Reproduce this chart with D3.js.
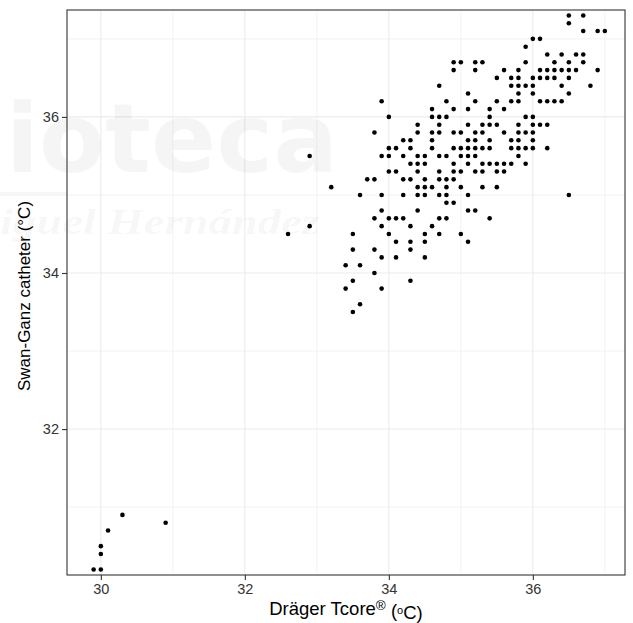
<!DOCTYPE html>
<html>
<head>
<meta charset="utf-8">
<script src="https://cdn.jsdelivr.net/npm/d3@7"></script>
<style>
  body { margin: 0; background: #fff; }
  svg { display: block; font-family: "Liberation Sans", Arial, Helvetica, sans-serif; }
</style>
</head>
<body>
<div id="chart"></div>
<script>
// Swan-Ganz reading (y) for each row of points, and the Dräger Tcore readings (x) on that row
const swanLevels = [
  37.3, 37.2, 37.1, 37.0, 36.9, 36.8, 36.7, 36.6, 36.5, 36.4, 36.3, 36.2, 36.1, 36.0,
  35.9, 35.8, 35.7, 35.6, 35.5, 35.4, 35.3, 35.2, 35.1, 35.0, 34.9, 34.8, 34.7, 34.6,
  34.5, 34.4, 34.3, 34.2, 34.1, 34.0, 33.9, 33.8, 33.6, 33.5,
  30.9, 30.8, 30.7, 30.5, 30.4, 30.2
];
const tcoreAtLevel = [
  [36.5, 36.7],
  [36.5],
  [36.7, 36.9, 37.0],
  [36.0, 36.1],
  [35.9],
  [36.2, 36.4, 36.6, 36.7],
  [34.9, 35.0, 35.2, 35.3, 35.9, 36.3, 36.5, 36.7],
  [34.9, 35.2, 35.6, 35.8, 36.1, 36.2, 36.3, 36.4, 36.5, 36.6, 36.9],
  [35.5, 35.7, 35.8, 36.0, 36.1, 36.2, 36.3, 36.5],
  [34.7, 35.7, 35.8, 35.9, 36.0, 36.4, 36.8],
  [35.1, 35.8, 36.0, 36.5],
  [33.9, 34.8, 35.2, 35.5, 35.7, 35.8, 36.1, 36.2, 36.3, 36.4],
  [34.6, 34.9, 35.1, 35.4, 35.6],
  [34.0, 34.6, 34.7, 34.8, 35.4, 35.9, 36.0],
  [34.4, 34.7, 35.1, 35.3, 35.4, 35.5, 35.8, 36.0, 36.1, 36.2],
  [33.8, 34.4, 34.6, 34.7, 34.9, 35.0, 35.2, 35.3, 35.6, 35.8, 35.9, 36.0],
  [34.2, 34.3, 34.6, 35.1, 35.2, 35.4, 35.7, 35.8, 36.0],
  [34.0, 34.1, 34.3, 34.6, 34.9, 35.0, 35.1, 35.2, 35.3, 35.4, 35.7, 35.8, 35.9, 36.0, 36.2],
  [32.9, 33.9, 34.0, 34.2, 34.4, 34.5, 34.7, 34.8, 35.0, 35.1, 35.2, 35.8],
  [34.3, 34.4, 34.5, 34.9, 35.1, 35.3, 35.4, 35.5, 35.6, 35.7, 35.9],
  [34.0, 34.1, 34.4, 34.7, 34.9, 35.0, 35.2, 35.3, 35.5, 35.6],
  [33.7, 33.8, 34.2, 34.3, 34.5, 34.7, 34.8, 34.9],
  [33.2, 34.4, 34.5, 34.6, 34.8, 35.0, 35.3, 35.5],
  [33.6, 33.9, 34.2, 34.4, 34.5, 34.7, 34.8, 35.1, 36.5],
  [34.8, 34.9],
  [33.9, 34.4, 35.1, 35.2],
  [33.8, 34.0, 34.1, 34.2, 34.7, 34.8, 35.4],
  [32.9, 33.9, 34.3, 34.6],
  [32.6, 33.5, 34.0, 34.5, 34.7, 35.0],
  [34.1, 34.3, 34.5, 35.1],
  [33.5, 33.8, 34.3],
  [33.9, 34.1, 34.5],
  [33.4, 33.6],
  [33.8],
  [33.5, 34.3],
  [33.4, 33.9],
  [33.6],
  [33.5],
  [30.3],
  [30.9],
  [30.1],
  [30.0],
  [30.0],
  [29.9, 30.0]
];

const xMajor = [30, 32, 34, 36];
const xMinor = [31, 33, 35, 37];
const yMajor = [32, 34, 36];
const yMinor = [31, 33, 35, 37];

const points = [];
swanLevels.forEach((sg, i) => {
  tcoreAtLevel[i].forEach(tc => points.push({ tcore: tc, swan: sg }));
});

const W = 633, H = 623;
const panel = { left: 67, right: 625, top: 10, bottom: 575 };

const svg = d3.select('#chart').append('svg')
  .attr('width', W)
  .attr('height', H);

svg.append('rect').attr('width', W).attr('height', H).attr('fill', '#fff');

const x = d3.scaleLinear().domain([29.53, 37.28]).range([panel.left, panel.right]);
const y = d3.scaleLinear().domain([30.13, 37.37]).range([panel.bottom, panel.top]);

// grid (minor first, then major)
const grid = svg.append('g');
grid.selectAll('.vminor').data(xMinor).enter().append('line')
  .attr('x1', d => x(d)).attr('x2', d => x(d))
  .attr('y1', panel.top).attr('y2', panel.bottom)
  .attr('stroke', '#ebebeb').attr('stroke-width', 0.6);
grid.selectAll('.hminor').data(yMinor).enter().append('line')
  .attr('y1', d => y(d)).attr('y2', d => y(d))
  .attr('x1', panel.left).attr('x2', panel.right)
  .attr('stroke', '#ebebeb').attr('stroke-width', 0.6);
grid.selectAll('.vmajor').data(xMajor).enter().append('line')
  .attr('x1', d => x(d)).attr('x2', d => x(d))
  .attr('y1', panel.top).attr('y2', panel.bottom)
  .attr('stroke', '#ebebeb').attr('stroke-width', 1.1);
grid.selectAll('.hmajor').data(yMajor).enter().append('line')
  .attr('y1', d => y(d)).attr('y2', d => y(d))
  .attr('x1', panel.left).attr('x2', panel.right)
  .attr('stroke', '#ebebeb').attr('stroke-width', 1.1);

// faint library watermark over the left half of the picture
const wm = svg.append('g').attr('fill', '#000');
wm.append('text')
  .attr('x', 6).attr('y', 172)
  .attr('fill-opacity', 0.04)
  .attr('textLength', 332).attr('lengthAdjust', 'spacingAndGlyphs')
  .style('font-family', '"DejaVu Sans", sans-serif')
  .style('font-weight', 'bold')
  .style('font-size', '96px')
  .text('ioteca');
wm.append('rect')
  .attr('x', 0).attr('y', 192).attr('width', 67).attr('height', 4)
  .attr('fill-opacity', 0.035);
wm.append('text')
  .attr('x', 0).attr('y', 234)
  .attr('fill-opacity', 0.045)
  .attr('textLength', 320).attr('lengthAdjust', 'spacingAndGlyphs')
  .style('font-family', '"Liberation Serif", serif')
  .style('font-style', 'italic')
  .style('font-weight', 'bold')
  .style('font-size', '36px')
  .text('iguel Hernández');

// points
svg.append('g').selectAll('circle')
  .data(points)
  .enter().append('circle')
  .attr('cx', d => x(d.tcore))
  .attr('cy', d => y(d.swan))
  .attr('r', 2.3)
  .attr('fill', '#000');

// panel border
svg.append('rect')
  .attr('x', panel.left).attr('y', panel.top)
  .attr('width', panel.right - panel.left).attr('height', panel.bottom - panel.top)
  .attr('fill', 'none').attr('stroke', '#333333').attr('stroke-width', 1.1);

// axes
const xAxis = svg.append('g')
  .attr('transform', `translate(0,${panel.bottom})`)
  .call(d3.axisBottom(x).tickValues(xMajor).tickSize(5).tickPadding(4).tickSizeOuter(0));
const yAxis = svg.append('g')
  .attr('transform', `translate(${panel.left},0)`)
  .call(d3.axisLeft(y).tickValues(yMajor).tickSize(5).tickPadding(3).tickSizeOuter(0));

[xAxis, yAxis].forEach(ax => {
  ax.select('.domain').remove();
  ax.selectAll('.tick line').attr('stroke', '#333333').attr('stroke-width', 1.1);
  ax.selectAll('.tick text')
    .attr('fill', '#333333')
    .style('font-family', '"Liberation Sans", Arial, sans-serif')
    .style('font-size', '14.5px');
});

// axis titles
const xTitle = svg.append('text')
  .attr('x', (panel.left + panel.right) / 2)
  .attr('y', 615)
  .attr('text-anchor', 'middle')
  .style('font-size', '18.5px')
  .attr('fill', '#000');
xTitle.append('tspan').text('Dräger Tcore');
xTitle.append('tspan').attr('dy', '-0.4em').style('font-size', '13.5px').text('®');
xTitle.append('tspan').attr('dy', '0.4em').text(' (');
xTitle.append('tspan').attr('dy', '-0.25em').style('font-size', '11px').text('o');
xTitle.append('tspan').attr('dy', '0.25em').text('C)');

svg.append('text')
  .attr('transform', `translate(30,296) rotate(-90)`)
  .attr('text-anchor', 'middle')
  .style('font-size', '17px')
  .attr('fill', '#000')
  .text('Swan-Ganz catheter (°C)');
</script>
</body>
</html>
